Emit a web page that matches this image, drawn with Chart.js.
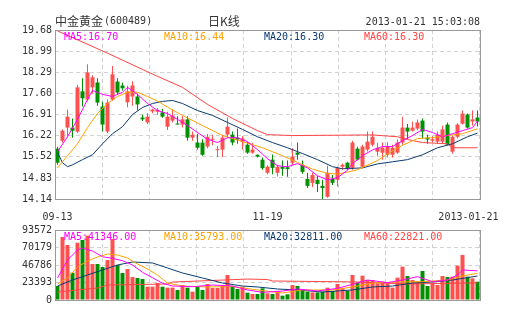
<!DOCTYPE html>
<html>
<head>
<meta charset="utf-8">
<title>中金黄金 日K线</title>
<script src="https://cdn.jsdelivr.net/npm/chart.js@4.4.0/dist/chart.umd.min.js"></script>
<style>
  html, body { margin: 0; padding: 0; background: #fff; }
  #box { position: relative; width: 505px; height: 330px; }
  #box canvas { position: absolute; left: 0; }
</style>
</head>
<body>
<div id="box">
  <canvas id="kChart" width="505" height="225" style="top:0"></canvas>
  <canvas id="volChart" width="505" height="105" style="top:225px"></canvas>
</div>
<script>
// trading days 2012-09-13 .. 2013-01-21
const dates = [
  '09-13','09-14','09-17','09-18','09-19','09-20','09-21','09-24','09-25','09-26','09-27','09-28',
  '10-08','10-09','10-10','10-11','10-12','10-15','10-16','10-17','10-18','10-19','10-22','10-23',
  '10-24','10-25','10-26','10-29','10-30','10-31',
  '11-01','11-02','11-05','11-06','11-07','11-08','11-09','11-12','11-13','11-14','11-15','11-16',
  '11-19','11-20','11-21','11-22','11-23','11-26','11-27','11-28','11-29','11-30',
  '12-03','12-04','12-05','12-06','12-07','12-10','12-11','12-12','12-13','12-14','12-17','12-18',
  '12-19','12-20','12-21','12-24','12-25','12-26','12-27','12-28','12-31',
  '01-04','01-07','01-08','01-09','01-10','01-11','01-14','01-15','01-16','01-17','01-18','01-21'
];
const xTickIdx = [0, 42, 84];
const xTickText = ['09-13', '11-19', '2013-01-21'];

const opens = [
  15.79,16.05,16.48,16.48,16.35,17.67,17.40,17.80,17.96,17.17,16.35,17.40,17.99,17.86,17.31,17.50,17.50,
  16.81,16.65,17.01,17.00,16.98,16.51,16.71,16.61,16.58,16.75,16.15,15.99,15.99,15.86,16.08,15.74,15.76,
  16.25,16.25,16.15,16.02,15.92,15.66,15.59,15.43,15.00,15.43,15.00,15.20,15.18,15.33,15.66,15.26,14.80,
  14.67,14.77,14.57,14.21,14.80,14.77,15.20,15.33,15.16,15.79,15.20,15.76,15.92,15.69,15.66,15.59,15.59,
  15.66,15.99,16.48,16.38,16.45,16.71,16.15,16.05,16.02,16.02,16.58,15.69,16.18,16.61,16.91,16.68,16.81
];
const closes = [
  15.33,16.38,16.84,16.38,17.80,17.44,18.29,18.13,17.30,16.58,17.30,18.23,17.63,17.77,17.67,17.86,17.24,
  16.75,16.84,17.07,17.06,16.84,16.84,16.88,16.58,16.75,16.15,16.25,15.82,15.59,16.18,16.10,15.77,16.15,
  16.51,15.99,16.09,16.12,15.66,15.76,15.53,15.15,15.20,15.16,15.20,15.13,15.12,15.53,15.59,15.03,14.57,
  14.93,14.63,14.50,15.00,14.67,15.16,15.26,15.13,15.99,15.43,15.86,16.02,16.18,15.82,15.82,15.86,15.82,
  15.99,16.48,16.35,16.48,16.65,16.35,16.09,16.10,16.25,16.42,15.92,16.18,16.58,16.94,16.48,16.75,16.68
];
const highs = [
  15.85,16.42,17.07,16.78,17.88,18.10,18.56,18.20,18.10,17.33,17.40,18.50,18.10,17.95,17.85,18.00,17.60,
  16.90,16.95,17.10,17.12,17.10,17.00,17.08,16.85,16.85,16.85,16.35,16.28,16.10,16.28,16.25,15.88,16.25,
  16.81,16.35,16.45,16.20,16.02,15.98,15.60,15.50,15.25,15.60,15.26,15.40,15.40,15.80,15.99,15.40,15.00,
  15.00,14.90,14.77,15.23,14.93,15.20,15.30,15.36,16.05,15.85,15.92,16.35,16.35,15.99,15.99,16.00,15.92,
  16.09,16.84,16.60,16.68,16.75,16.78,16.25,16.20,16.35,16.55,16.65,16.22,16.62,17.04,16.94,17.04,17.04
];
const lows = [
  15.26,15.99,16.18,16.15,16.30,17.17,17.35,17.60,17.20,16.35,16.30,17.35,17.55,17.70,17.15,17.20,17.05,
  16.70,16.60,16.95,16.90,16.80,16.40,16.65,16.58,16.48,16.05,16.05,15.76,15.56,15.80,15.90,15.52,15.52,
  16.15,15.90,15.95,15.76,15.62,15.62,15.50,15.10,14.95,14.95,14.88,14.90,14.87,15.26,15.43,14.97,14.50,
  14.53,14.37,14.14,14.18,14.60,14.55,15.10,15.10,15.10,15.40,15.15,15.70,15.86,15.56,15.43,15.50,15.50,
  15.62,15.92,16.10,16.35,16.40,16.12,15.95,16.00,15.95,15.95,15.90,15.62,16.12,16.58,16.45,16.55,16.52
];
const volumes = [
  18700,84200,73500,36500,76600,80200,86000,48100,48100,44100,53500,81500,46800,36100,41400,30700,29400,
  28100,17800,17800,22700,17800,16500,16500,13400,20000,16500,11100,18700,13400,21400,16000,16000,19100,
  33400,18700,14700,17800,9800,8000,8000,15600,8900,8000,12000,5800,7600,20000,18700,13400,11100,
  10200,10200,11100,16500,12000,21400,16000,12000,33400,23200,32500,26700,26700,22300,24500,22300,16500,
  29900,44600,32100,26700,24500,38800,18700,22300,20000,32100,30700,31200,45900,60200,31200,29000,24500
];

// moving-average lines: [day index, value]
const ma5Pts = [[0,15.69],[2,16.18],[4,16.75],[6,17.40],[7,17.70],[9,17.57],[11,17.50],[13,17.64],[14,17.80],
  [16,17.57],[18,17.27],[20,17.04],[22,16.94],[24,16.75],[26,16.55],[28,16.32],[30,16.10],[32,15.99],[34,16.15],
  [36,16.15],[38,16.02],[40,15.76],[42,15.46],[44,15.23],[46,15.20],[48,15.30],[50,15.16],[52,14.90],[54,14.77],
  [56,14.84],[58,15.08],[59,15.30],[61,15.56],[63,15.75],[65,15.86],[67,15.86],[69,16.05],[71,16.22],[73,16.42],
  [75,16.32],[77,16.18],[79,16.28],[81,16.38],[83,16.48],[84,16.70]];
const ma10Pts = [[0,15.16],[2,15.56],[4,15.95],[6,16.48],[8,16.94],[10,17.27],[12,17.50],[14,17.64],[16,17.64],
  [18,17.50],[20,17.35],[22,17.15],[25,16.88],[29,16.55],[33,16.22],[37,16.02],[41,15.82],[45,15.56],[48,15.34],
  [51,15.12],[54,14.98],[56,14.96],[58,15.02],[60,15.10],[62,15.25],[64,15.40],[66,15.62],[69,15.90],[72,16.12],
  [75,16.15],[78,16.22],[81,16.28],[84,16.44]];
const ma20Pts = [[0,15.66],[1,15.33],[2,15.20],[3,15.26],[5,15.43],[7,15.59],[9,15.95],[11,16.28],[13,16.51],
  [15,16.91],[17,17.14],[19,17.27],[21,17.34],[23,17.37],[25,17.27],[28,17.04],[31,16.88],[34,16.65],[37,16.42],
  [40,16.18],[43,15.99],[46,15.82],[49,15.63],[52,15.43],[55,15.20],[57,15.13],[61,15.16],[64,15.29],[67,15.36],
  [70,15.43],[73,15.59],[76,15.82],[79,15.95],[82,16.18],[84,16.30]];
const ma60Pts = [[0,19.65],[10,18.92],[20,18.16],[25,17.80],[30,17.24],[35,16.78],[40,16.38],[42,16.25],[47,16.22],
  [63,16.24],[68,16.18],[70,16.09],[73,15.99],[78,15.95],[79,15.82],[84,15.82]];

const vma5Pts = [[0,29400],[2,53500],[4,66800],[5,69500],[7,65500],[9,57900],[11,55700],[13,52500],[15,46800],
  [17,37000],[19,29800],[21,22300],[23,18700],[27,17800],[31,20000],[35,18700],[38,13400],[41,10200],[45,12000],
  [48,14700],[52,12000],[56,15600],[59,20900],[62,26700],[66,23200],[69,26700],[72,31200],[75,24500],[78,26700],
  [80,33400],[81,40100],[84,39000]];
const vma10Pts = [[0,21400],[2,29400],[4,44100],[6,52100],[8,57500],[10,61500],[12,60200],[14,56100],[16,48100],
  [18,41400],[20,33400],[22,22700],[25,18700],[30,17400],[35,18000],[40,13400],[45,9400],[49,13400],[55,13400],
  [59,17400],[63,22700],[68,24100],[73,24500],[78,26700],[81,32100],[84,35800]];
const vma20Pts = [[0,18700],[3,26700],[6,33400],[9,40100],[12,46800],[15,50800],[19,49500],[22,42800],[25,36100],
  [29,29400],[33,22700],[37,18700],[40,17400],[44,14700],[48,13400],[53,10700],[59,13400],[63,17400],[67,18700],
  [71,22700],[75,24100],[79,26700],[84,32100]];
const vma60Pts = [[0,10700],[8,16000],[10,20000],[22,21400],[23,24000],[38,28000],[42,27400],[43,25400],
  [60,24100],[70,21400],[84,22821]];

const priceTicks = [14.14, 14.83, 15.52, 16.22, 16.91, 17.60, 18.29, 18.99, 19.68];
const volTicks = [0, 23393, 46786, 70179, 93572];

const maNames = ['MA5', 'MA10', 'MA20', 'MA60'];
const priceMaLast = ['16.70', '16.44', '16.30', '16.30'];
const volMaLast = ['41346.00', '35793.00', '32811.00', '22821.00'];

const stockName = '中金黄金';
const stockCode = '(600489)';
const periodText = '日K线';
const stamp = '2013-01-21 15:03:08';

const RED = '#ff5050', GREEN = '#009000';
const maColors = ['#ff00ff', '#ffa200', '#0b3a6e', '#ff4444'];
const GRID = '#d2d2d2', FRAME = '#999999', TEXT = '#333333';
const MONO = "'DejaVu Sans Mono', monospace";
const CJK = "'Noto Sans CJK SC', sans-serif";

const candleColor = closes.map((c, i) => c >= opens[i] ? RED : GREEN);

function sparse(pts) {
  const a = new Array(dates.length).fill(null);
  pts.forEach(([i, v]) => { a[i] = v; });
  return a;
}

function maLine(pts, color) {
  return { type: 'line', data: sparse(pts), borderColor: color, borderWidth: 1, pointRadius: 0,
           spanGaps: true, tension: 0, fill: false, order: 1 };
}

// vertical dashed grid: 8 equal columns, independent of the day slots
function gridAxis() {
  return {
    type: 'linear', position: 'bottom', min: 0, max: 8,
    afterBuildTicks: s => { s.ticks = [0, 1, 2, 3, 4, 5, 6, 7, 8].map(v => ({ value: v })); },
    ticks: { display: false },
    grid: { color: GRID, drawTicks: false },
    border: { display: false, dash: [4, 3] },
    afterFit: s => { s.height = 0; s.paddingLeft = 0; s.paddingRight = 0; }
  };
}

function valueAxis(min, max, tickVals, fmt) {
  return {
    min: min, max: max,
    afterBuildTicks: s => { s.ticks = tickVals.map(v => ({ value: v })); },
    ticks: { padding: 3, color: TEXT, font: { family: MONO, size: 10 }, callback: fmt },
    grid: { color: GRID, drawTicks: false },
    border: { display: false, dash: [4, 3] },
    afterFit: s => { s.width = 55; s.paddingTop = 0; s.paddingBottom = 0; }
  };
}

function drawFrame(chart) {
  const { ctx, chartArea: a } = chart;
  ctx.save();
  ctx.strokeStyle = FRAME;
  ctx.lineWidth = 1;
  ctx.strokeRect(a.left + 0.5, a.top + 0.5, a.right - a.left, a.bottom - a.top);
  ctx.restore();
}

function drawMaLegend(ctx, values, y) {
  ctx.font = '10px ' + MONO;
  ctx.textBaseline = 'middle';
  ctx.textAlign = 'left';
  values.forEach((v, k) => {
    ctx.fillStyle = maColors[k];
    ctx.fillText(maNames[k] + ':' + v, 64 + k * 100, y);
  });
}

const kOverlay = {
  id: 'kOverlay',
  afterDraw(chart) {
    const ctx = chart.ctx;
    drawFrame(chart);
    ctx.save();
    ctx.fillStyle = TEXT;
    ctx.textBaseline = 'middle';
    ctx.font = '12px ' + CJK;
    ctx.fillText(stockName, 55, 21);
    const w = ctx.measureText(stockName).width;
    ctx.font = '10px ' + MONO;
    ctx.fillText(stockCode, 55 + w + 1, 21);
    ctx.font = '12px ' + CJK;
    ctx.fillText(periodText, 208, 21);
    ctx.font = '10px ' + MONO;
    ctx.textAlign = 'right';
    ctx.fillText(stamp, 480, 22);
    drawMaLegend(ctx, priceMaLast, 37);
    ctx.restore();
  }
};

const volOverlay = {
  id: 'volOverlay',
  afterDraw(chart) {
    drawFrame(chart);
    chart.ctx.save();
    drawMaLegend(chart.ctx, volMaLast, 12);
    chart.ctx.restore();
  }
};

new Chart(document.getElementById('kChart'), {
  type: 'bar',
  data: {
    labels: dates,
    datasets: [
      maLine(ma5Pts, maColors[0]), maLine(ma10Pts, maColors[1]),
      maLine(ma20Pts, maColors[2]), maLine(ma60Pts, maColors[3]),
      { data: opens.map((o, i) => [o, closes[i]]), backgroundColor: candleColor, barThickness: 4,
        minBarLength: 1, grouped: false, inflateAmount: 0, order: 2 },
      { data: lows.map((l, i) => [l, highs[i]]), backgroundColor: candleColor, barThickness: 1,
        grouped: false, inflateAmount: 0, order: 3 }
    ]
  },
  options: {
    responsive: false, animation: false, devicePixelRatio: 1,
    layout: { padding: { top: 30, right: 25, bottom: 0, left: 0 }, autoPadding: false },
    plugins: { legend: { display: false }, tooltip: { enabled: false } },
    scales: {
      x: {
        type: 'category', offset: true,
        grid: { display: false }, border: { display: false },
        ticks: {
          autoSkip: false, maxRotation: 0, minRotation: 0, padding: 4, color: TEXT,
          font: { family: MONO, size: 10 },
          callback: (v, i) => {
            const k = xTickIdx.indexOf(i);
            if (k < 0) return '';
            // trailing blanks pull the last date left so it stays inside the canvas
            return i === dates.length - 1 ? xTickText[k] + '   ' : xTickText[k];
          }
        },
        afterFit: s => { s.height = 26; s.paddingLeft = 0; s.paddingRight = 0; }
      },
      xg: gridAxis(),
      y: valueAxis(14.14, 19.68, priceTicks, v => v.toFixed(2))
    }
  },
  plugins: [kOverlay]
});

new Chart(document.getElementById('volChart'), {
  type: 'bar',
  data: {
    labels: dates,
    datasets: [
      maLine(vma5Pts, maColors[0]), maLine(vma10Pts, maColors[1]),
      maLine(vma20Pts, maColors[2]), maLine(vma60Pts, maColors[3]),
      { data: volumes, backgroundColor: candleColor, barThickness: 4, inflateAmount: 0, order: 2 }
    ]
  },
  options: {
    responsive: false, animation: false, devicePixelRatio: 1,
    layout: { padding: { top: 5, right: 25, bottom: 30, left: 0 }, autoPadding: false },
    plugins: { legend: { display: false }, tooltip: { enabled: false } },
    scales: {
      x: { type: 'category', offset: true, display: false },
      xg: gridAxis(),
      y: valueAxis(0, 93572, volTicks, v => String(v))
    }
  },
  plugins: [volOverlay]
});
</script>
</body>
</html>
